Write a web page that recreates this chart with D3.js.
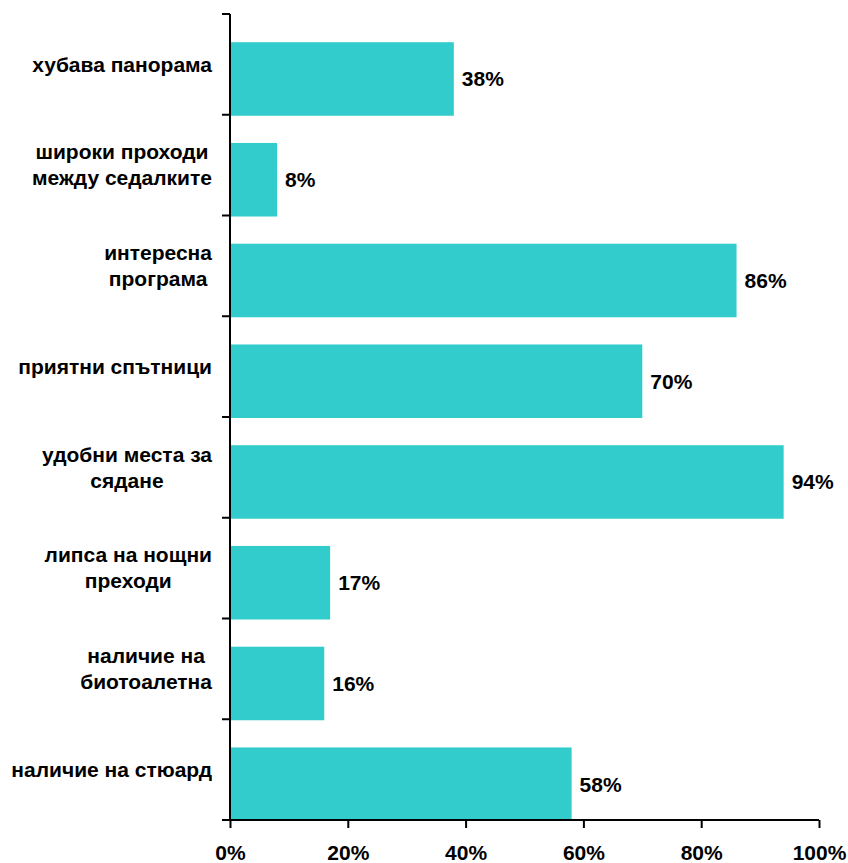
<!DOCTYPE html>
<html>
<head>
<meta charset="utf-8">
<script src="https://cdn.jsdelivr.net/npm/d3@7"></script>
<style>
  html, body { margin: 0; padding: 0; background: #fff; }
  svg { display: block; }
  text { font-family: "Liberation Sans", Arial, sans-serif; font-weight: bold; fill: #000; }
</style>
</head>
<body>
<svg id="chart" width="848" height="863"></svg>
<script>
const categories = [
  ["хубава панорама"],
  ["широки проходи", "между седалките"],
  ["интересна", "програма"],
  ["приятни спътници"],
  ["удобни места за", "сядане"],
  ["липса на нощни", "преходи"],
  ["наличие на", "биотоалетна"],
  ["наличие на стюард"]
];
const values = [38, 8, 86, 70, 94, 17, 16, 58];
const xTicks = [0, 20, 40, 60, 80, 100];

(function () {
const svg = d3.select("#chart");
const plotLeft = 230, plotRight = 819, plotTop = 14, plotBottom = 820;
const fs = "21px";

const keys = categories.map((c, i) => "c" + i);
const y = d3.scaleBand().domain(keys).range([plotTop, plotBottom]).padding(0);
const x = d3.scaleLinear().domain([0, 100]).range([plotLeft, plotRight]);

const barColor = "#33CCCC";
const bw = y.bandwidth();
const barOff = bw * 0.27 + 1, barH = bw * 0.73;

// bars (aligned to the lower part of each band)
svg.append("g").selectAll("rect")
  .data(values)
  .join("rect")
  .attr("x", x(0))
  .attr("y", (d, i) => y(keys[i]) + barOff)
  .attr("width", d => x(d) - x(0))
  .attr("height", barH)
  .attr("fill", barColor);

// value labels
svg.append("g").selectAll("text")
  .data(values)
  .join("text")
  .attr("x", d => x(d) + 8)
  .attr("y", (d, i) => y(keys[i]) + barOff + barH / 2)
  .attr("dy", "0.35em")
  .style("font-size", fs)
  .text(d => d + "%");

// y axis line and ticks at band boundaries
const gy = svg.append("g");
gy.append("line")
  .attr("x1", plotLeft).attr("x2", plotLeft)
  .attr("y1", plotTop).attr("y2", plotBottom)
  .attr("stroke", "#000").attr("stroke-width", 2);
const boundaries = keys.map(k => y(k)).concat([plotBottom]);
gy.selectAll("line.tick")
  .data(boundaries)
  .join("line")
  .attr("class", "tick")
  .attr("x1", plotLeft - 8).attr("x2", plotLeft)
  .attr("y1", d => d).attr("y2", d => d)
  .attr("stroke", "#000").attr("stroke-width", 2);

// category labels: multi-line, centered block, right-aligned to the axis
const labelRight = 212;
const lineH = 26;
categories.forEach((lines, i) => {
  const cy = y(keys[i]) + bw / 2;
  const g = svg.append("g");
  const texts = lines.map((ln, j) => g.append("text")
    .attr("text-anchor", "middle")
    .attr("y", cy + (j - (lines.length - 1) / 2) * lineH)
    .attr("dy", "0.35em")
    .style("font-size", fs)
    .text(ln));
  const maxW = d3.max(texts, t => t.node().getComputedTextLength());
  texts.forEach(t => t.attr("x", labelRight - maxW / 2));
});

// x axis
const xAxis = d3.axisBottom(x)
  .tickValues(xTicks)
  .tickSize(8)
  .tickPadding(17)
  .tickFormat(d => d + "%");
const gx = svg.append("g")
  .attr("transform", `translate(0,${plotBottom})`)
  .call(xAxis);
gx.select(".domain").attr("stroke", "#000").attr("stroke-width", 2)
  .attr("d", `M${plotLeft},0H${plotRight}`);
gx.selectAll(".tick line").attr("stroke", "#000").attr("stroke-width", 2);
gx.selectAll(".tick text")
  .style("font-size", fs)
  .style("font-family", '"Liberation Sans", Arial, sans-serif')
  .style("font-weight", "bold")
  .attr("fill", "#000");
})();
</script>
</body>
</html>
